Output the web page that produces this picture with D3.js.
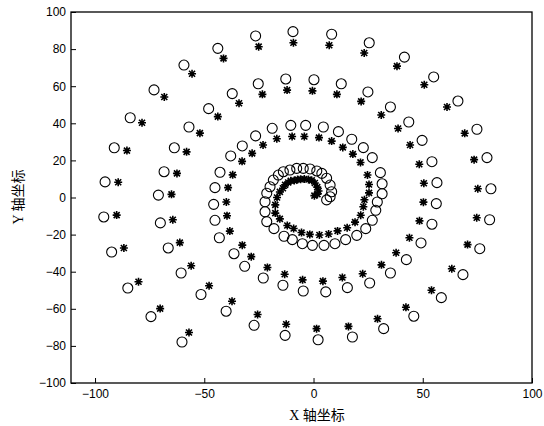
<!DOCTYPE html>
<html>
<head>
<meta charset="utf-8">
<script src="https://cdn.jsdelivr.net/npm/d3@7"></script>
<style>
  body { margin: 0; background: #fff; }
  svg { display: block; }
  .tick text { font-family: "Liberation Sans", Arial, sans-serif; font-size: 12px; fill: #000; }
  .label { font-family: "Liberation Serif", "Noto Sans CJK SC", serif; font-size: 14px; fill: #000; }
</style>
</head>
<body>
<svg id="chart"></svg>
<script>
// circle marker positions, read along the spiral from the outer end inward
const circleX = [-60.2, -74.4, -85.0, -92.4, -96.0, -95.4, -91.2, -83.9, -73.0, -59.3, -43.8, -26.5, -9.4, 8.3, 25.5, 41.6, 55.0, 66.1, 74.8, 79.4, 81.2, 80.6, 76.1, 68.4, 58.5, 45.9, 32.1, 17.8, 2.1, -13.0, -27.2,
  -40.0, -51.5, -60.6, -66.5, -70.1, -71.0, -68.4, -63.7, -57.0, -48.0, -37.2, -25.3, -12.7, 0.2, 12.7, 24.9, 35.2, 43.6, 49.7, 54.2, 56.5, 56.2, 54.2, 49.2, 42.5, 35.2, 25.7, 15.5, 5.6, -4.7, -14.0, -23.0, -31.5, -36.4, -43.1,
  -45.1, -45.7, -45.1, -42.8, -37.9, -32.6, -26.5, -18.9, -10.4, -3.6, 4.5, 11.4, 17.5, 22.8, 26.9, 30.6, 31.4, 31.4, 29.2, 28.5, 26.9, 23.9, 19.8, 14.7, 9.8, 4.8, -0.5, -5.1, -9.7, -13.5, -18.1,
  -21.4, -22.2, -22.2, -21.4, -19.9, -18.4, -16.1, -13.8, -10.8, -7.7, -4.7, -1.6, 1.5, 3.8, 6.0, 7.6, 8.3, 7.6, 6.0];
const circleY = [-77.9, -64.2, -48.8, -29.4, -10.5, 8.4, 26.8, 43.0, 58.0, 71.4, 80.4, 87.1, 89.4, 88.0, 83.4, 75.7, 65.0, 52.0, 36.8, 21.5, 4.7, -12.0, -27.6, -41.6, -54.0, -64.0, -70.7, -75.2, -76.7, -74.3, -68.9,
  -61.3, -52.3, -40.7, -27.2, -13.7, 1.3, 13.9, 26.8, 38.0, 47.9, 56.0, 61.3, 63.9, 63.5, 61.3, 56.9, 48.8, 40.7, 30.8, 19.3, 8.0, -3.3, -14.4, -24.5, -33.5, -40.7, -46.1, -48.6, -50.9, -50.4, -47.3, -43.4, -37.1, -30.3, -21.7,
  -12.3, -3.7, 5.3, 13.6, 22.4, 27.8, 33.2, 37.3, 38.9, 38.9, 38.0, 35.5, 31.4, 26.9, 21.5, 13.4, 7.4, 2.0, -2.4, -6.9, -12.3, -16.8, -20.4, -22.7, -24.9, -25.8, -25.8, -24.9, -22.7, -20.9, -16.8,
  -13.0, -7.7, -2.3, 2.3, 5.8, 9.4, 12.1, 13.9, 14.8, 15.7, 15.7, 15.4, 14.3, 13.0, 10.4, 6.7, 3.1, 0.4, -1.3];

// star marker positions, each one sitting just inside its circle
const starX = [-57.0, -70.2, -80.1, -86.8, -90.1, -89.4, -85.4, -78.5, -68.3, -55.6, -41.2, -25.1, -9.2, 7.2, 23.2, 38.2, 50.7, 61.1, 69.2, 73.5, 75.2, 74.7, 70.5, 63.3, 54.0, 42.3, 29.3, 16.0, 1.4, -12.5, -25.6,
  -37.3, -47.8, -56.0, -61.2, -64.4, -65.0, -62.5, -58.1, -52.0, -43.8, -34.1, -23.4, -12.1, -0.5, 10.7, 21.8, 31.0, 38.7, 44.2, 48.4, 50.5, 50.3, 48.5, 43.9, 37.8, 31.1, 22.5, 13.2, 4.3, -5.0, -13.2, -21.1, -28.5, -32.6, -38.3,
  -39.6, -39.9, -39.1, -37.0, -32.7, -28.1, -23.1, -16.8, -9.8, -4.2, 2.5, 8.3, 13.4, 18.0, 21.5, 24.7, 25.4, 25.4, 23.3, 22.8, 21.6, 19.0, 15.4, 11.0, 6.9, 2.7, -1.7, -5.5, -9.1, -12.0, -15.4,
  -17.5, -17.5, -16.7, -15.4, -14.0, -13.0, -11.6, -10.4, -8.8, -7.3, -5.9, -4.2, -2.3, -0.8, 0.6, 1.7, 2.3, 1.8, 0.4];
const starY = [-72.8, -59.9, -45.4, -27.2, -9.5, 8.2, 25.3, 40.3, 54.2, 66.7, 75.0, 81.3, 83.4, 82.1, 77.9, 70.8, 60.8, 48.8, 34.6, 20.4, 4.7, -10.9, -25.4, -38.4, -50.0, -59.2, -65.4, -69.5, -70.7, -68.3, -63.1,
  -55.9, -47.6, -36.8, -24.3, -12.0, 1.7, 13.0, 24.6, 34.7, 43.6, 50.8, 55.6, 57.9, 57.5, 55.6, 51.8, 44.5, 37.2, 28.3, 17.9, 7.7, -2.5, -12.6, -21.7, -29.8, -36.3, -41.1, -43.1, -45.1, -44.4, -41.4, -37.7, -31.9, -25.7, -18.1,
  -9.8, -2.4, 5.3, 12.2, 19.5, 23.8, 28.3, 31.7, 32.9, 32.9, 32.3, 30.4, 27.0, 23.4, 18.9, 12.1, 7.0, 2.5, -1.2, -5.0, -9.6, -13.3, -16.3, -18.0, -19.7, -20.2, -19.9, -18.9, -16.7, -15.1, -11.5,
  -8.4, -4.0, 0.0, 3.0, 5.0, 6.8, 8.1, 9.0, 9.1, 9.7, 9.8, 10.0, 9.7, 9.2, 7.8, 5.6, 3.5, 1.8, 1.0];

const xTicks = [-100, -50, 0, 50, 100];
const yTicks = [-100, -80, -60, -40, -20, 0, 20, 40, 60, 80, 100];

const margin = { top: 12, right: 12, bottom: 43, left: 71 };
const width = 544 - margin.left - margin.right;
const height = 426 - margin.top - margin.bottom;

const xScale = d3.scaleLinear().domain([-111, 100]).range([0, width]);
const yScale = d3.scaleLinear().domain([-100, 100]).range([height, 0]);

const root = d3.select("#chart")
  .attr("width", 544)
  .attr("height", 426);

const svg = root.append("g")
  .attr("transform", "translate(" + margin.left + "," + margin.top + ")");

// axes, ticks pointing into the plot like matlab does
const xAxis = svg.append("g")
  .attr("transform", "translate(0," + height + ")")
  .call(d3.axisBottom(xScale).tickValues(xTicks).tickSizeInner(-5).tickSizeOuter(0).tickPadding(6));

const yAxis = svg.append("g")
  .call(d3.axisLeft(yScale).tickValues(yTicks).tickSizeInner(-5).tickSizeOuter(0).tickPadding(5));

[xAxis, yAxis].forEach(function(a) {
  a.select(".domain").remove();
  a.selectAll(".tick line").attr("stroke", "#000").attr("stroke-width", 1);
});

// box around the plot
svg.append("rect")
  .attr("x", 0)
  .attr("y", 0)
  .attr("width", width)
  .attr("height", height)
  .attr("fill", "none")
  .attr("stroke", "#000")
  .attr("stroke-width", 1.3);

const circles = circleX.map(function(d, i) { return { x: d, y: circleY[i] }; });
const stars = starX.map(function(d, i) { return { x: d, y: starY[i] }; });

svg.selectAll("circle.pt")
  .data(circles)
  .enter()
  .append("circle")
  .attr("class", "pt")
  .attr("cx", function(d) { return xScale(d.x); })
  .attr("cy", function(d) { return yScale(d.y); })
  .attr("r", 5)
  .attr("fill", "none")
  .attr("stroke", "#000")
  .attr("stroke-width", 1.1);

// asterisk marker: plus and cross together
const starPath = "M-4,0H4M0,-4V4M-3,-3L3,3M-3,3L3,-3";
svg.selectAll("path.star")
  .data(stars)
  .enter()
  .append("path")
  .attr("class", "star")
  .attr("d", starPath)
  .attr("transform", function(d) { return "translate(" + xScale(d.x) + "," + yScale(d.y) + ")"; })
  .attr("fill", "none")
  .attr("stroke", "#000")
  .attr("stroke-width", 1.6);

// axis titles
root.append("text")
  .attr("class", "label")
  .attr("x", 317)
  .attr("y", 420)
  .attr("text-anchor", "middle")
  .text("X 轴坐标");

root.append("text")
  .attr("class", "label")
  .attr("transform", "translate(23,197) rotate(-90)")
  .attr("text-anchor", "middle")
  .text("Y 轴坐标");
</script>
</body>
</html>
